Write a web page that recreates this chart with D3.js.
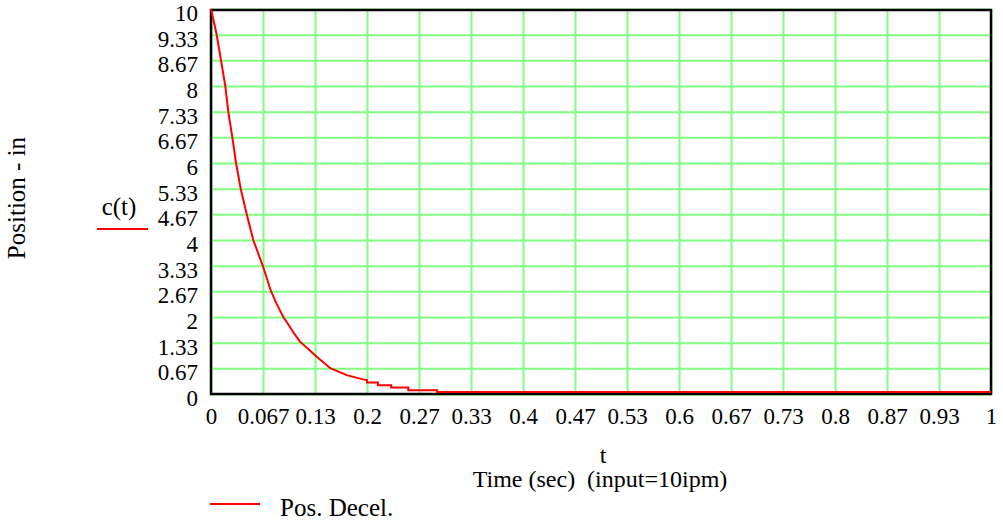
<!DOCTYPE html>
<html>
<head>
<meta charset="utf-8">
<script src="https://cdn.jsdelivr.net/npm/d3@7"></script>
<style>
  body { margin: 0; background: #fff; }
  svg text { font-family: "Liberation Serif", "Times New Roman", serif; fill: #000; }
  .axis path { display: none; }
  .grid line { stroke: #80ff80; stroke-width: 2; }
</style>
</head>
<body>
<div id="chart"></div>
<script>
var width = 1003,
    height = 529;

// tick labels as printed on the chart
var xTickLabels = ["0", "0.067", "0.13", "0.2", "0.27", "0.33", "0.4", "0.47", "0.53",
                   "0.6", "0.67", "0.73", "0.8", "0.87", "0.93", "1"];
var yTickLabels = ["0", "0.67", "1.33", "2", "2.67", "3.33", "4", "4.67", "5.33",
                   "6", "6.67", "7.33", "8", "8.67", "9.33", "10"];

// c(t) (the tail is a staircase)
var cT = [0, 0.0073, 0.0128, 0.0183, 0.0222, 0.0273, 0.0321, 0.0381, 0.0458, 0.0542,
          0.0664, 0.0769, 0.0842, 0.0927, 0.1, 0.107, 0.114, 0.1247,
          0.1355, 0.153, 0.174, 0.195, 0.2, 0.2, 0.214, 0.214, 0.231, 0.231,
          0.253, 0.253, 0.29, 0.29, 1];
var cV = [10, 9.33, 8.67, 8.0, 7.33, 6.67, 6.0, 5.33, 4.67, 4.0,
          3.33, 2.67, 2.34, 2.0, 1.78, 1.56, 1.36, 1.17,
          0.97, 0.67, 0.49, 0.38, 0.36, 0.30, 0.30, 0.23, 0.23, 0.17,
          0.17, 0.10, 0.10, 0.05, 0.05];

var pLeft = 211, pRight = 991, pTop = 9, pBottom = 394;

var svg = d3.select("#chart").append("svg")
    .attr("width", width)
    .attr("height", height);

var x = d3.scaleLinear().domain([0, 1]).range([pLeft, pRight]);
var y = d3.scaleLinear().domain([0, 10]).range([pBottom, pTop]);

var xTicks = xTickLabels.map(function(d, i) { return i / 15; });
var yTicks = yTickLabels.map(function(d, i) { return i * 10 / 15; });

// grid
svg.append("g")
    .attr("class", "grid")
    .attr("transform", "translate(0," + pBottom + ")")
    .call(d3.axisBottom(x).tickValues(xTicks).tickSize(-(pBottom - pTop)).tickFormat(""))
    .select(".domain").remove();

svg.append("g")
    .attr("class", "grid")
    .attr("transform", "translate(" + pLeft + ",0)")
    .call(d3.axisLeft(y).tickValues(yTicks).tickSize(-(pRight - pLeft)).tickFormat(""))
    .select(".domain").remove();

// tick labels
var xAxis = svg.append("g")
    .attr("class", "axis")
    .attr("transform", "translate(0," + (pBottom + 11) + ")")
    .call(d3.axisBottom(x).tickValues(xTicks).tickSize(0)
        .tickFormat(function(d, i) { return xTickLabels[i]; }));
xAxis.selectAll("text").style("font-size", "23px").attr("dy", "0.71em");

var yAxis = svg.append("g")
    .attr("class", "axis")
    .attr("transform", "translate(" + (pLeft - 10) + ",0)")
    .call(d3.axisLeft(y).tickValues(yTicks).tickSize(0)
        .tickFormat(function(d, i) { return yTickLabels[i]; }));
yAxis.selectAll("text").style("font-size", "23px").attr("dy", "0.5em");

// frame
svg.append("rect")
    .attr("x", pLeft)
    .attr("y", pTop + 1)
    .attr("width", pRight - pLeft)
    .attr("height", pBottom - pTop - 1)
    .attr("fill", "none")
    .attr("stroke", "#000")
    .attr("stroke-width", 2.5);

// the curve
var pts = cT.map(function(t, i) { return [t, cV[i]]; });
var line = d3.line()
    .x(function(d) { return x(d[0]); })
    .y(function(d) { return y(d[1]); });

svg.append("path")
    .datum(pts)
    .attr("d", line)
    .attr("fill", "none")
    .attr("stroke", "#ff0000")
    .attr("stroke-width", 2);

// y axis labels
svg.append("text")
    .attr("transform", "translate(25,198) rotate(-90)")
    .attr("text-anchor", "middle")
    .style("font-size", "25px")
    .text("Position - in");

svg.append("text")
    .attr("x", 119)
    .attr("y", 215)
    .attr("text-anchor", "middle")
    .style("font-size", "25px")
    .text("c(t)");

svg.append("line")
    .attr("x1", 97).attr("x2", 148)
    .attr("y1", 229).attr("y2", 229)
    .attr("stroke", "#ff0000")
    .attr("stroke-width", 2);

// x axis labels
svg.append("text")
    .attr("x", 603)
    .attr("y", 463)
    .attr("text-anchor", "middle")
    .style("font-size", "24px")
    .text("t");

svg.append("text")
    .attr("x", 600)
    .attr("y", 487)
    .attr("text-anchor", "middle")
    .style("font-size", "24px")
    .style("white-space", "pre")
    .text("Time (sec)  (input=10ipm)");

// legend
svg.append("line")
    .attr("x1", 210).attr("x2", 260)
    .attr("y1", 504).attr("y2", 504)
    .attr("stroke", "#ff0000")
    .attr("stroke-width", 2);

svg.append("text")
    .attr("x", 280)
    .attr("y", 516)
    .style("font-size", "25px")
    .text("Pos. Decel.");
</script>
</body>
</html>
